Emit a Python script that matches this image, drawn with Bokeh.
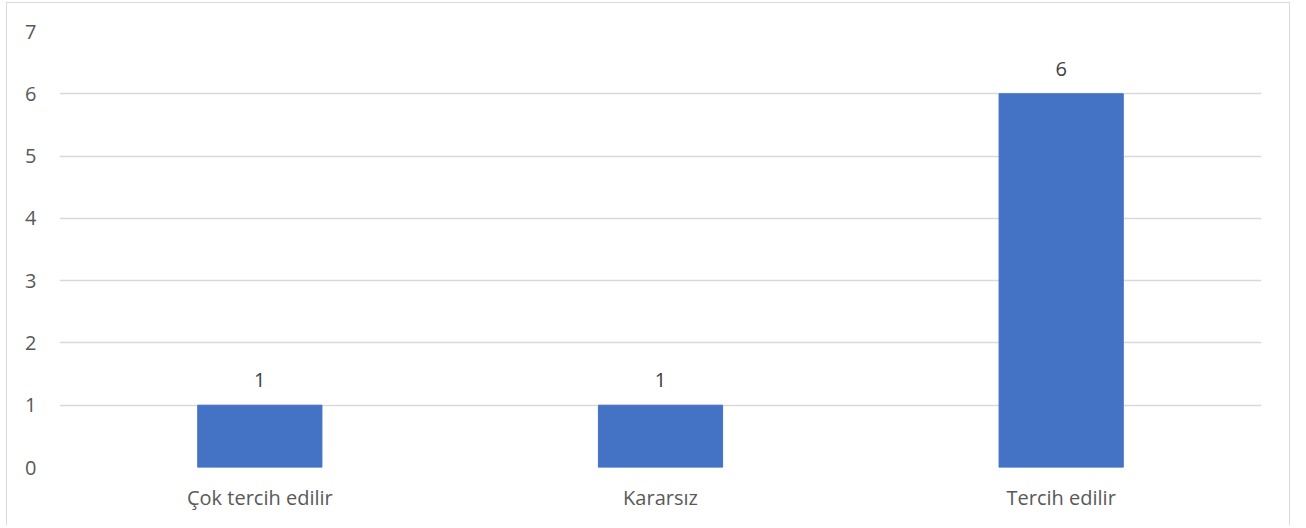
from bokeh.plotting import figure
from bokeh.models import Range1d, FixedTicker
from bokeh.core.properties import value
from bokeh.embed import file_html
from bokeh.resources import INLINE

categories = ["Çok tercih edilir", "Kararsız", "Tercih edilir"]
counts = [1, 1, 6]
y_ticks = [0, 1, 2, 3, 4, 5, 6, 7]

FONT = "Open Sans"
TXT = "#595959"

p = figure(x_range=categories, y_range=Range1d(0, 7),
           frame_width=1202, frame_height=436,
           min_border_left=52, min_border_right=28,
           min_border_top=28, min_border_bottom=58,
           output_backend="svg", toolbar_location=None)
p.styles = {"border-left": "1px solid #d9d9d9", "border-top": "1px solid #d9d9d9",
            "border-right": "1px solid #d9d9d9", "margin": "2px 0 0 6px"}
p.outline_line_color = None
p.background_fill_color = "white"
p.border_fill_color = "white"

p.vbar(x=categories, top=counts, width=0.31, color="#4472C4")
p.text(x=categories, y=counts, text=[str(c) for c in counts],
       y_offset=-25, text_align="center", text_baseline="alphabetic",
       text_font=value(FONT), text_font_size="20px", text_color="#404040")

p.xgrid.grid_line_color = None
p.ygrid.grid_line_color = "#d9d9d9"
p.ygrid.grid_line_width = 1.5
p.yaxis.ticker = FixedTicker(ticks=y_ticks)

for ax in (p.xaxis, p.yaxis):
    ax.axis_line_color = None
    ax.major_tick_line_color = None
    ax.minor_tick_line_color = None
    ax.major_tick_out = 0
    ax.major_tick_in = 0
    ax.major_label_text_font = FONT
    ax.major_label_text_font_size = "20px"
    ax.major_label_text_color = TXT
p.yaxis.major_label_standoff = 23
p.xaxis.major_label_standoff = 16

open("out.html", "w").write(file_html(p, INLINE))
